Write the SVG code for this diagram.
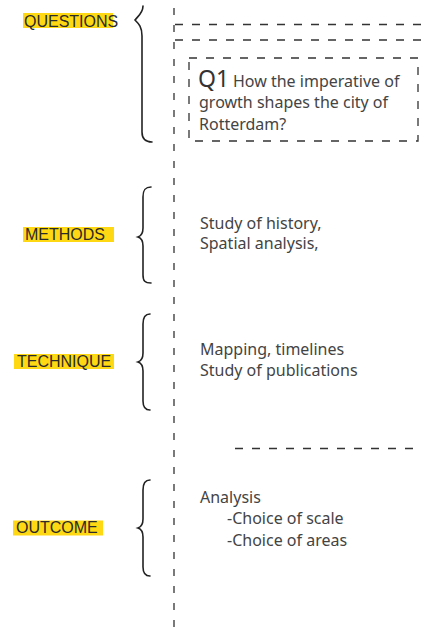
<svg xmlns="http://www.w3.org/2000/svg" width="421" height="632" viewBox="0 0 421 632">
<style>
.bg{fill:#ffffff}
.dash{fill:none;stroke:#333;stroke-width:1.3;stroke-dasharray:8 9}
.vdash{fill:none;stroke:#333;stroke-width:1.3;stroke-dasharray:7 10}
.brace{fill:none;stroke:#222;stroke-width:1.6;stroke-linecap:round}
.hl{fill:#FFD814}
.lbl{font-family:"Liberation Sans",Arial,sans-serif;font-size:16px;fill:#2b2b2b}
.txt{font-family:"Noto Sans","Open Sans",sans-serif;font-size:16px;fill:#444}
.big{font-family:"Noto Sans","Open Sans",sans-serif;font-size:23px;fill:#333}
</style>
<rect class="bg" x="0" y="0" width="421" height="632"/>
<g id="connectors">
  <line class="vdash" x1="174" y1="8" x2="174" y2="632"/>
  <line class="dash" x1="175" y1="24.5" x2="421" y2="24.5"/>
  <line class="dash" x1="175" y1="40" x2="421" y2="40"/>
  <line class="dash" x1="235" y1="448.5" x2="421" y2="448.5"/>
</g>
<g id="questions">
  <rect class="hl" x="23" y="13" width="90" height="15"/>
  <text class="lbl" x="24" y="26.5">QUESTIONS</text>
  <path class="brace" d="M143,6 C143,13 138,16 135,20 C139,24 142,27 142,36 L142,132 C142,139 145,142 152,142"/>
</g>
<g id="q1">
  <rect class="dash" x="189" y="58" width="229" height="83"/>
  <text class="big" x="198" y="87">Q1</text>
  <text class="txt" x="233" y="87">How the imperative of</text>
  <text class="txt" x="199" y="108">growth shapes the city of</text>
  <text class="txt" x="199" y="129.5">Rotterdam?</text>
</g>
<g id="methods">
  <rect class="hl" x="23" y="227" width="91" height="15"/>
  <text class="lbl" x="25" y="240">METHODS</text>
  <path class="brace" d="M151,187 C145,187 143,190 143,197 L143,228 C143,233 141,236 138,237 C141,238 143,241 143,246 L143,275 C143,281 145,283 151,283"/>
  <text class="txt" x="200" y="229">Study of history,</text>
  <text class="txt" x="200" y="249">Spatial analysis,</text>
</g>
<g id="technique">
  <rect class="hl" x="14" y="354" width="100" height="15"/>
  <text class="lbl" x="17" y="367">TECHNIQUE</text>
  <path class="brace" d="M150,314 C145,314 143,317 143,324 L143,353 C143,358 141,361 138,362 C141,363 143,366 143,371 L143,401 C143,407 145,410 150,410"/>
  <text class="txt" x="200" y="355">Mapping, timelines</text>
  <text class="txt" x="200" y="376">Study of publications</text>
</g>
<g id="outcome">
  <rect class="hl" x="13" y="520.5" width="90" height="15"/>
  <text class="lbl" x="16" y="533">OUTCOME</text>
  <path class="brace" d="M150,480 C145,480 143,483 143,490 L143,519 C143,524 141,527 138,528 C141,529 143,532 143,537 L143,567 C143,573 145,576 150,576"/>
  <text class="txt" x="200" y="503">Analysis</text>
  <text class="txt" x="227" y="524">-Choice of scale</text>
  <text class="txt" x="227" y="545.5">-Choice of areas</text>
</g>
</svg>
